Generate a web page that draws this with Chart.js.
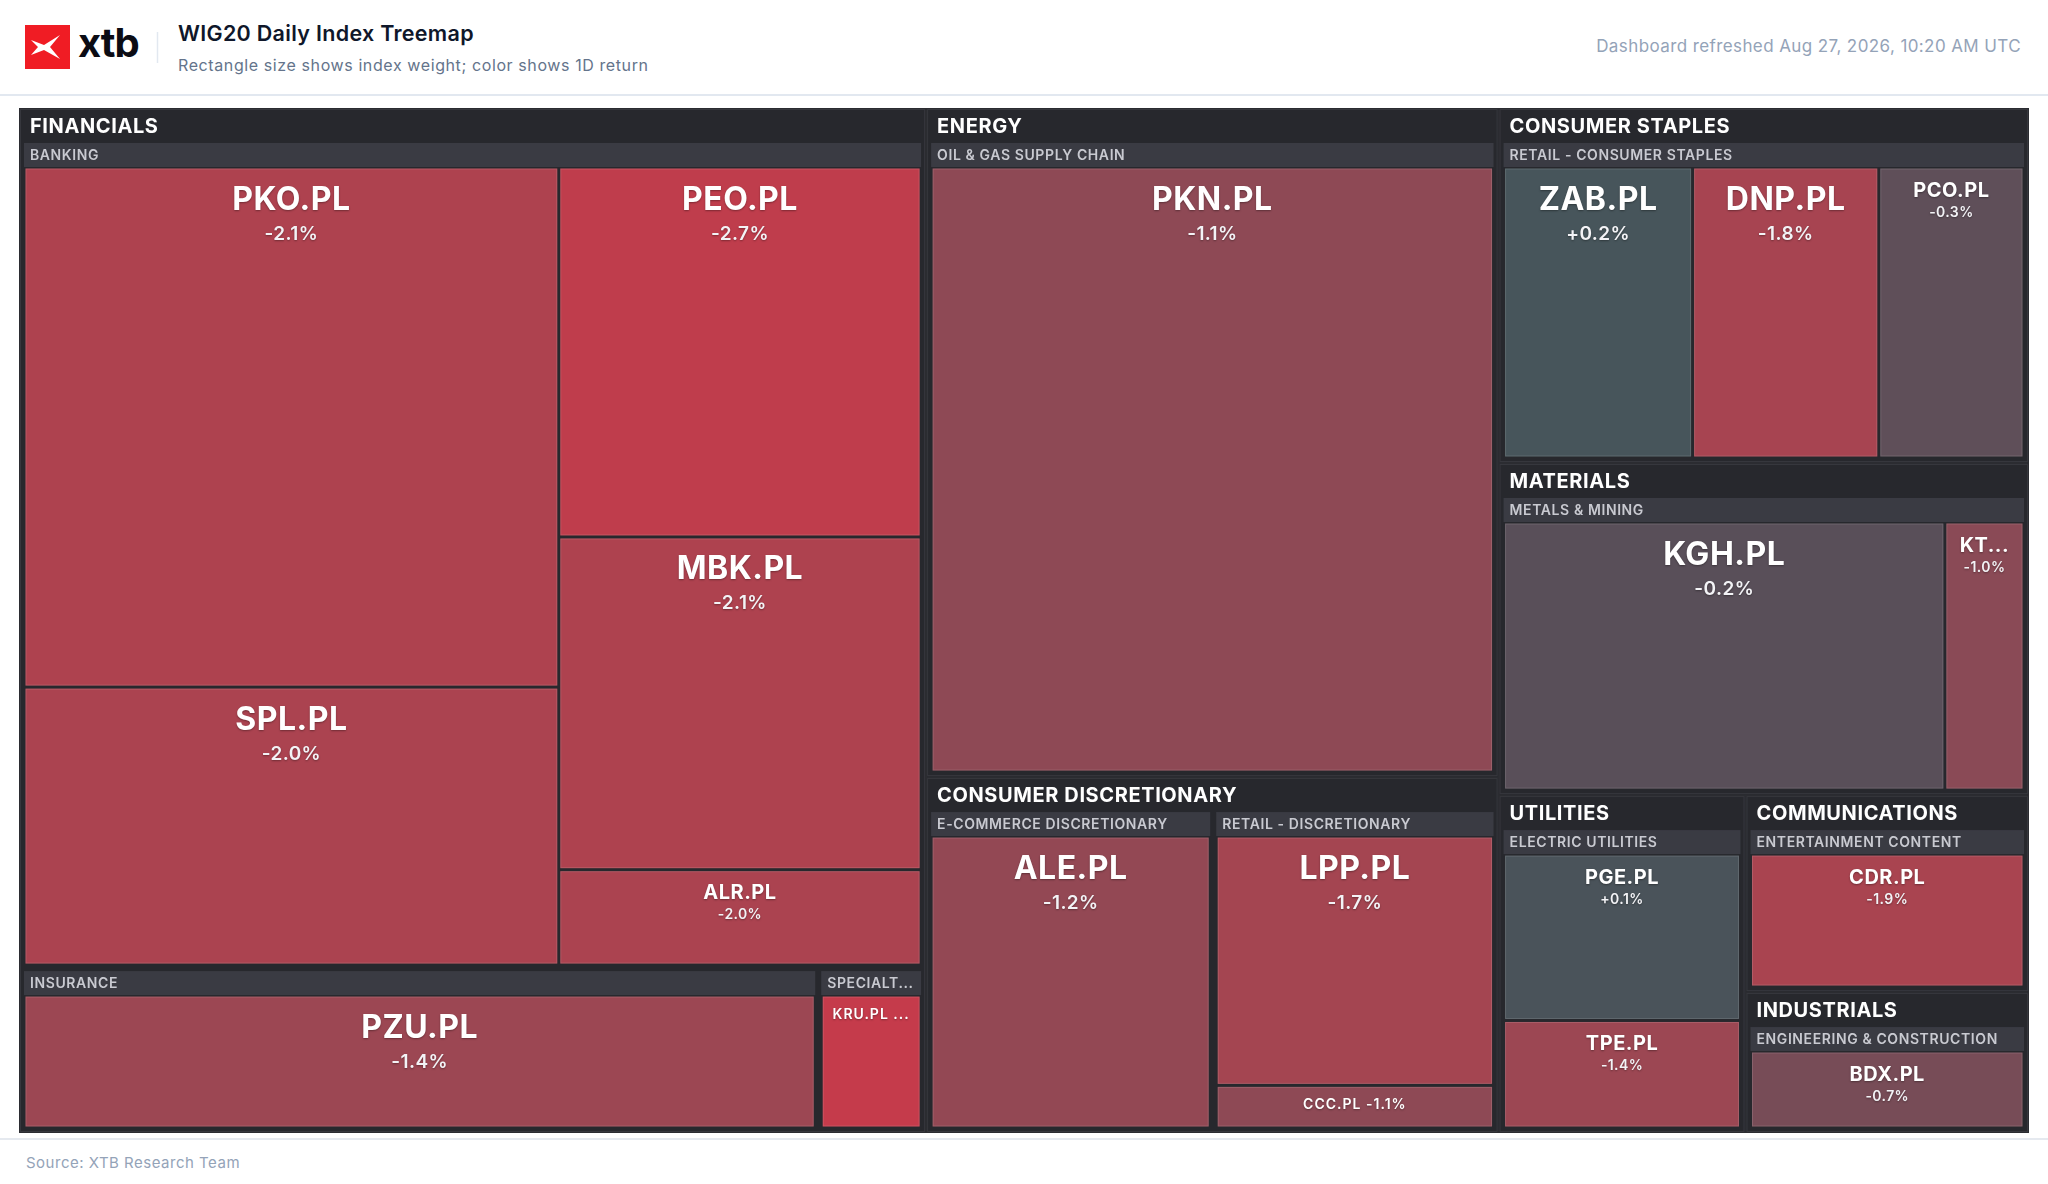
<!DOCTYPE html>
<html>
<head>
<meta charset="utf-8">
<title>WIG20 Daily Index Treemap</title>
<script src="https://cdn.jsdelivr.net/npm/chart.js@4.4.1/dist/chart.umd.min.js"></script>
<style>
    html, body { margin: 0; padding: 0; background: #ffffff; }
    body { width: 2048px; height: 1184px; position: relative; overflow: hidden; font-family: Inter, "Noto Sans", sans-serif; }
    #chrome { position: absolute; left: 0; top: 0; }
    #treemapBox { position: absolute; left: 19px; top: 108px; width: 2010px; height: 1025px; }
</style>
</head>
<body>
<svg id="chrome" width="2048" height="1184" xmlns="http://www.w3.org/2000/svg" font-family="Inter, 'Noto Sans', sans-serif">
    <!-- logo -->
    <rect x="25" y="25" width="45" height="44" fill="#f01c24"/>
    <polygon points="6,15 19,20 35,10 25,22 35,34 19,25 6,30 13,22" transform="translate(25,25)" fill="#ffffff"/>
    <text x="78" y="57" font-size="40" font-weight="700" fill="#0b0c14" letter-spacing="-1">xtb</text>
    <line x1="157.5" y1="32" x2="157.5" y2="63" stroke="#e2e8f0" stroke-width="1.5"/>
    <text x="178" y="41" font-size="21.5" font-weight="600" fill="#0f172a" letter-spacing="0.3">WIG20 Daily Index Treemap</text>
    <text x="178" y="71" font-size="16" fill="#64748b" letter-spacing="0.6">Rectangle size shows index weight; color shows 1D return</text>
    <text x="2021" y="52" font-size="17" fill="#94a3b8" text-anchor="end" letter-spacing="0.4">Dashboard refreshed Aug 27, 2026, 10:20 AM UTC</text>
    <line x1="0" y1="95" x2="2048" y2="95" stroke="#e2e8f0" stroke-width="2"/>
    <line x1="0" y1="1139" x2="2048" y2="1139" stroke="#e5e9ef" stroke-width="2"/>
    <text x="26" y="1168" font-size="15" fill="#94a3b8" letter-spacing="0.5">Source: XTB Research Team</text>
</svg>
<div id="treemapBox"><canvas id="treemap"></canvas></div>

<script>
// layout space of the treemap (one unit = one pixel of the chart area)
const VIEW_W = 2010;
const VIEW_H = 1025;

const tickers = ['PKO.PL', 'SPL.PL', 'PEO.PL', 'MBK.PL', 'ALR.PL', 'PZU.PL', 'KRU.PL', 'PKN.PL', 'ALE.PL', 'LPP.PL',
    'CCC.PL', 'ZAB.PL', 'DNP.PL', 'PCO.PL', 'KGH.PL', 'KTY.PL', 'PGE.PL', 'TPE.PL', 'CDR.PL', 'BDX.PL'];

const tickerSectors = ['Financials', 'Financials', 'Financials', 'Financials', 'Financials', 'Financials', 'Financials',
    'Energy', 'Consumer Discretionary', 'Consumer Discretionary', 'Consumer Discretionary',
    'Consumer Staples', 'Consumer Staples', 'Consumer Staples', 'Materials', 'Materials',
    'Utilities', 'Utilities', 'Communications', 'Industrials'];

const tickerIndustries = ['Banking', 'Banking', 'Banking', 'Banking', 'Banking', 'Insurance', 'Specialty Finance',
    'Oil & Gas Supply Chain', 'E-Commerce Discretionary', 'Retail - Discretionary', 'Retail - Discretionary',
    'Retail - Consumer Staples', 'Retail - Consumer Staples', 'Retail - Consumer Staples',
    'Metals & Mining', 'Metals & Mining', 'Electric Utilities', 'Electric Utilities',
    'Entertainment Content', 'Engineering & Construction'];

// index weight, %
const indexWeights = [14.65, 7.83, 7.06, 6.35, 1.82, 6.55, 0.87, 18.59, 4.96, 4.21,
    0.72, 3.32, 3.27, 2.55, 7.25, 1.30, 2.46, 1.59, 2.71, 1.94];

// 1D return, %
const dayReturns = [-2.1, -2.0, -2.7, -2.1, -2.0, -1.4, -2.9, -1.1, -1.2, -1.7,
    -1.1, 0.2, -1.8, -0.3, -0.2, -1.0, 0.1, -1.4, -1.9, -0.7];

// return -> tile colour
const colorStops = [
    [-3.0, [200, 58, 74]],
    [-2.0, [171, 67, 80]],
    [-1.5, [160, 70, 82]],
    [-1.0, [138, 74, 86]],
    [-0.5, [106, 77, 88]],
    [0.0, [78, 81, 90]],
    [0.5, [60, 92, 92]],
    [3.0, [40, 130, 100]]
];

const FONT = 'Inter, "Noto Sans", sans-serif';
const SECTOR_HEAD = 34;
const INDUSTRY_HEAD = 24;

function returnColor(r) {
    if (r <= colorStops[0][0]) return `rgb(${colorStops[0][1].join(',')})`;
    for (let i = 1; i < colorStops.length; i++) {
        const [v1, c1] = colorStops[i];
        const [v0, c0] = colorStops[i - 1];
        if (r <= v1) {
            const t = (r - v0) / (v1 - v0);
            const c = c0.map((c, k) => Math.round(c + (c1[k] - c) * t));
            return `rgb(${c.join(',')})`;
        }
    }
    return `rgb(${colorStops[colorStops.length - 1][1].join(',')})`;
}

function buildTree() {
    const sectorMap = new Map();
    tickers.forEach((ticker, i) => {
        const sName = tickerSectors[i];
        const iName = tickerIndustries[i];
        if (!sectorMap.has(sName)) sectorMap.set(sName, { name: sName, value: 0, children: new Map() });
        const sector = sectorMap.get(sName);
        if (!sector.children.has(iName)) sector.children.set(iName, { name: iName, value: 0, children: [] });
        const industry = sector.children.get(iName);
        industry.children.push({ name: ticker, value: indexWeights[i], ret: dayReturns[i] });
        industry.value += indexWeights[i];
        sector.value += indexWeights[i];
    });
    return [...sectorMap.values()].map(s => ({ ...s, children: [...s.children.values()] }));
}

// worst aspect ratio of a row laid along the short side
function worstRatio(row, side, scale) {
    const s = row.reduce((a, n) => a + n.value, 0) * scale;
    const max = Math.max(...row.map(n => n.value)) * scale;
    const min = Math.min(...row.map(n => n.value)) * scale;
    return Math.max(side * side * max / (s * s), (s * s) / (side * side * min));
}

// classic squarified treemap
function squarify(nodes, x, y, w, h) {
    const items = nodes.slice().sort((a, b) => b.value - a.value);
    const total = items.reduce((a, n) => a + n.value, 0);
    const scale = (w * h) / total;
    let rest = items;
    while (rest.length) {
        const side = Math.min(w, h);
        let row = [rest[0]];
        let best = worstRatio(row, side, scale);
        for (let i = 1; i < rest.length; i++) {
            const cand = row.concat([rest[i]]);
            const r = worstRatio(cand, side, scale);
            if (r > best) break;
            row = cand;
            best = r;
        }
        const rowArea = row.reduce((a, n) => a + n.value, 0) * scale;
        const thick = rowArea / side;
        if (w >= h) {
            let cy = y;
            row.forEach(n => {
                const hh = n.value * scale / thick;
                n.rect = { x: x, y: cy, w: thick, h: hh };
                cy += hh;
            });
            x += thick; w -= thick;
        } else {
            let cx = x;
            row.forEach(n => {
                const ww = n.value * scale / thick;
                n.rect = { x: cx, y: y, w: ww, h: thick };
                cx += ww;
            });
            y += thick; h -= thick;
        }
        rest = rest.slice(row.length);
    }
}

function inset(r, d) {
    return { x: r.x + d, y: r.y + d, w: r.w - 2 * d, h: r.h - 2 * d };
}

function layoutTree(tree) {
    squarify(tree, 0, 0, VIEW_W, VIEW_H);
    tree.forEach(sector => {
        sector.box = inset(sector.rect, 1);
        const s = sector.box;
        squarify(sector.children, s.x + 1, s.y + SECTOR_HEAD - 3, s.w - 2, s.h - SECTOR_HEAD + 2);
        sector.children.forEach(industry => {
            industry.box = inset(industry.rect, 3);
            const b = industry.box;
            squarify(industry.children, b.x, b.y + INDUSTRY_HEAD, b.w, b.h - INDUSTRY_HEAD);
            industry.children.forEach(stock => { stock.box = inset(stock.rect, 1.5); });
        });
    });
    return tree;
}

function truncate(ctx, text, maxW) {
    if (ctx.measureText(text).width <= maxW) return text;
    let t = text;
    while (t.length > 1 && ctx.measureText(t + '...').width > maxW) t = t.slice(0, -1);
    return t.replace(/[-+]$/, '') + '...';
}

function formatReturn(r) {
    return (r > 0 ? '+' : '') + r.toFixed(1) + '%';
}

const treemapPlugin = {
    id: 'treemapPainter',
    afterDraw(chart, args, opts) {
        const { ctx, chartArea } = chart;
        const xs = chart.scales.x;
        const ys = chart.scales.y;
        const toPx = r => {
            const x0 = xs.getPixelForValue(r.x), x1 = xs.getPixelForValue(r.x + r.w);
            const y0 = ys.getPixelForValue(r.y), y1 = ys.getPixelForValue(r.y + r.h);
            return { x: Math.min(x0, x1), y: Math.min(y0, y1), w: Math.abs(x1 - x0), h: Math.abs(y1 - y0) };
        };

        ctx.save();
        ctx.fillStyle = '#2b2c31';
        ctx.fillRect(chartArea.left, chartArea.top, chartArea.right - chartArea.left, chartArea.bottom - chartArea.top);

        opts.tree.forEach(sector => {
            const s = toPx(sector.box);
            ctx.fillStyle = '#27282d';
            ctx.fillRect(s.x, s.y, s.w, s.h);
            ctx.strokeStyle = '#36373d';
            ctx.lineWidth = 1;
            ctx.strokeRect(s.x + 0.5, s.y + 0.5, s.w - 1, s.h - 1);

            ctx.fillStyle = '#ffffff';
            ctx.font = `700 20px ${FONT}`;
            ctx.letterSpacing = '0.6px';
            ctx.textAlign = 'left';
            ctx.textBaseline = 'middle';
            ctx.fillText(truncate(ctx, sector.name.toUpperCase(), s.w - 20), s.x + 10, s.y + 17.5);

            sector.children.forEach(industry => {
                const b = toPx(industry.box);
                ctx.fillStyle = '#3a3b43';
                ctx.fillRect(b.x, b.y, b.w, INDUSTRY_HEAD);
                ctx.fillStyle = '#c9cad1';
                ctx.font = `600 14px ${FONT}`;
                ctx.letterSpacing = '0.6px';
                ctx.textAlign = 'left';
                ctx.fillText(truncate(ctx, industry.name.toUpperCase(), b.w - 10), b.x + 6, b.y + 12.5);

                industry.children.forEach(stock => {
                    const t = toPx(stock.box);
                    ctx.fillStyle = returnColor(stock.ret);
                    ctx.fillRect(t.x, t.y, t.w, t.h);
                    ctx.strokeStyle = 'rgba(255,255,255,0.13)';
                    ctx.strokeRect(t.x + 0.5, t.y + 0.5, t.w - 1, t.h - 1);
                    drawStockLabel(ctx, stock, t);
                });
            });
        });
        ctx.restore();
    }
};

function drawStockLabel(ctx, stock, t) {
    const area = t.w * t.h;
    const cx = t.x + t.w / 2;
    const pct = formatReturn(stock.ret);
    ctx.save();
    ctx.textAlign = 'center';
    ctx.textBaseline = 'alphabetic';
    ctx.shadowColor = 'rgba(0,0,0,0.35)';
    ctx.shadowBlur = 2;
    ctx.shadowOffsetY = 1;
    if (area >= 50000) {
        ctx.fillStyle = '#ffffff';
        ctx.font = `700 32px ${FONT}`;
        ctx.letterSpacing = '0.5px';
        ctx.fillText(truncate(ctx, stock.name, t.w - 24), cx, t.y + 41);
        ctx.fillStyle = '#f3f3f6';
        ctx.font = `600 19px ${FONT}`;
        ctx.letterSpacing = '0.4px';
        ctx.fillText(pct, cx, t.y + 71);
    } else if (area >= 18000 && t.h >= 60) {
        ctx.fillStyle = '#ffffff';
        ctx.font = `700 20px ${FONT}`;
        ctx.letterSpacing = '0.5px';
        ctx.fillText(truncate(ctx, stock.name, t.w - 24), cx, t.y + 28);
        ctx.fillStyle = '#f3f3f6';
        ctx.font = `600 14px ${FONT}`;
        ctx.letterSpacing = '0.4px';
        ctx.fillText(pct, cx, t.y + 48);
    } else {
        ctx.fillStyle = '#ffffff';
        ctx.font = `600 14px ${FONT}`;
        ctx.letterSpacing = '1px';
        ctx.textBaseline = 'middle';
        ctx.fillText(truncate(ctx, stock.name + ' ' + pct, t.w - 14), cx, t.y + Math.min(t.h / 2, 18));
    }
    ctx.restore();
}

function createTreemap() {
    const tree = layoutTree(buildTree());
    const canvas = document.getElementById('treemap');
    new Chart(canvas, {
        type: 'scatter',
        data: { datasets: [{ data: [], pointRadius: 0 }] },
        options: {
            responsive: true,
            maintainAspectRatio: false,
            animation: false,
            events: [],
            layout: { padding: 0 },
            scales: {
                x: { type: 'linear', min: 0, max: VIEW_W, display: false },
                y: { type: 'linear', min: 0, max: VIEW_H, reverse: true, display: false }
            },
            plugins: {
                legend: { display: false },
                tooltip: { enabled: false },
                treemapPainter: { tree: tree }
            }
        },
        plugins: [treemapPlugin]
    });
}

Promise.all([
    document.fonts.load(`700 20px ${FONT}`),
    document.fonts.load(`600 14px ${FONT}`)
]).catch(() => {}).then(createTreemap);
</script>
</body>
</html>
